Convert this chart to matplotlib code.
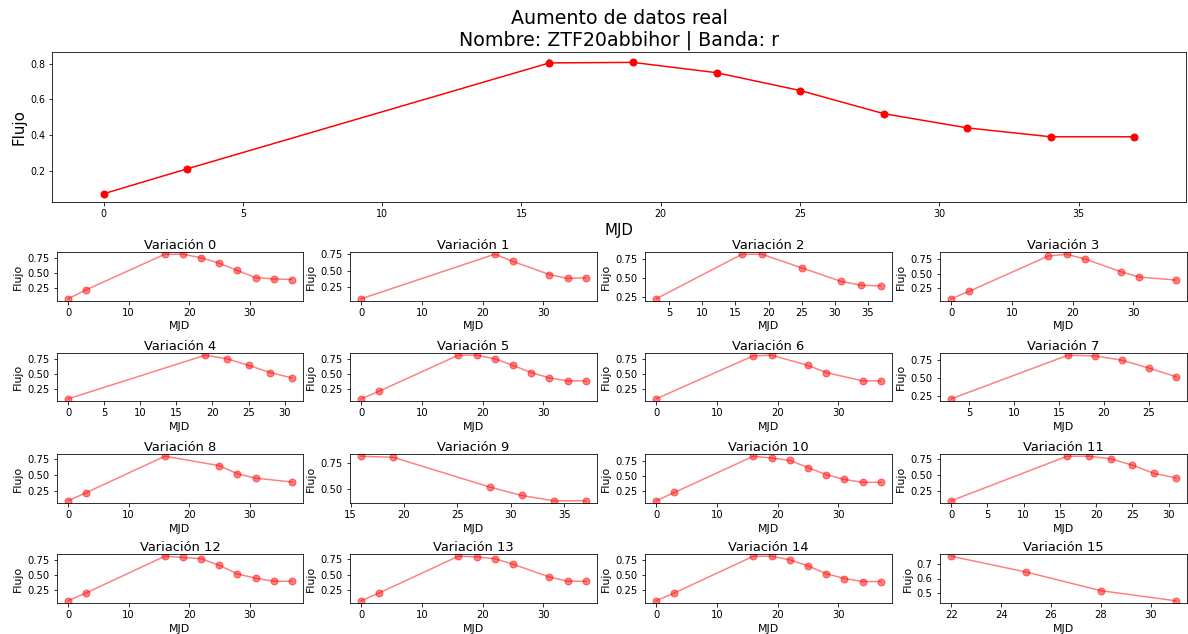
import matplotlib
matplotlib.use("Agg")
import matplotlib.pyplot as plt

# Curva real
mjd = [0, 3, 16, 19, 22, 25, 28, 31, 34, 37]
flujo = [0.07, 0.21, 0.805, 0.808, 0.75, 0.65, 0.52, 0.44, 0.39, 0.39]
error = [0.008, 0.01, 0.02, 0.02, 0.015, 0.012, 0.01, 0.01, 0.008, 0.008]

# Variaciones (subconjuntos con ruido)
var_mjd = [
    [0, 3, 16, 19, 22, 25, 28, 31, 34, 37],
    [0, 22, 25, 31, 34, 37],
    [3, 16, 19, 25, 31, 34, 37],
    [0, 3, 16, 19, 22, 28, 31, 37],
    [0, 19, 22, 25, 28, 31],
    [0, 3, 16, 19, 22, 25, 28, 31, 34, 37],
    [0, 16, 19, 25, 28, 34, 37],
    [3, 16, 19, 22, 25, 28],
    [0, 3, 16, 25, 28, 31, 37],
    [16, 19, 28, 31, 34, 37],
    [0, 3, 16, 19, 22, 25, 28, 31, 34, 37],
    [0, 16, 19, 22, 25, 28, 31],
    [0, 3, 16, 19, 22, 25, 28, 31, 34, 37],
    [0, 3, 16, 19, 22, 25, 31, 34, 37],
    [0, 3, 16, 19, 22, 25, 28, 31, 34, 37],
    [22, 25, 28, 31],
]
var_flujo = [
    [0.07, 0.22, 0.81, 0.81, 0.75, 0.66, 0.54, 0.42, 0.40, 0.39],
    [0.07, 0.75, 0.64, 0.44, 0.38, 0.39],
    [0.22, 0.81, 0.81, 0.63, 0.45, 0.40, 0.39],
    [0.07, 0.20, 0.80, 0.83, 0.75, 0.53, 0.44, 0.39],
    [0.08, 0.81, 0.75, 0.64, 0.52, 0.43],
    [0.08, 0.21, 0.81, 0.81, 0.75, 0.64, 0.52, 0.43, 0.38, 0.38],
    [0.08, 0.80, 0.81, 0.64, 0.52, 0.38, 0.38],
    [0.21, 0.82, 0.81, 0.75, 0.64, 0.52],
    [0.09, 0.22, 0.80, 0.65, 0.52, 0.45, 0.39],
    [0.81, 0.80, 0.52, 0.44, 0.39, 0.39],
    [0.08, 0.22, 0.83, 0.80, 0.76, 0.64, 0.52, 0.44, 0.39, 0.39],
    [0.09, 0.79, 0.79, 0.75, 0.65, 0.52, 0.45],
    [0.08, 0.21, 0.81, 0.79, 0.77, 0.66, 0.52, 0.45, 0.40, 0.40],
    [0.07, 0.20, 0.80, 0.79, 0.76, 0.67, 0.46, 0.39, 0.39],
    [0.07, 0.20, 0.81, 0.81, 0.75, 0.65, 0.52, 0.44, 0.39, 0.39],
    [0.755, 0.645, 0.515, 0.445],
]

W, H = 1188, 634
fig = plt.figure(figsize=(W / 72, H / 72), dpi=72)


def px_axes(x0, y0, x1, y1):
    # rectangle given in pixels from the top-left corner
    return fig.add_axes([x0 / W, 1 - y1 / H, (x1 - x0) / W, (y1 - y0) / H])


ax = px_axes(52, 52, 1186, 202)
ax.errorbar(mjd, flujo, yerr=error, fmt="o-", color="red", markersize=7, lw=1.5)
ax.set_title("Aumento de datos real\nNombre: ZTF20abbihor | Banda: r", fontsize=19)
ax.set_xlabel("MJD", fontsize=15)
ax.set_ylabel("Flujo", fontsize=15)
ax.tick_params(labelsize=9.5)

cols = [(57, 303), (350, 597), (645, 892), (940, 1187)]
rows = [(252, 301), (353, 401), (454, 503), (554, 603)]

for k in range(16):
    r, c = divmod(k, 4)
    a = px_axes(cols[c][0], rows[r][0], cols[c][1], rows[r][1])
    a.plot(var_mjd[k], var_flujo[k], "o-", color="red", alpha=0.5,
           markersize=7, lw=1.5)
    a.set_title(f"Variación {k}", fontsize=13, pad=3)
    a.set_xlabel("MJD", fontsize=11, labelpad=3)
    a.set_ylabel("Flujo", fontsize=11)
    a.tick_params(labelsize=10, pad=4)

fig.savefig("out.png", dpi=72)
